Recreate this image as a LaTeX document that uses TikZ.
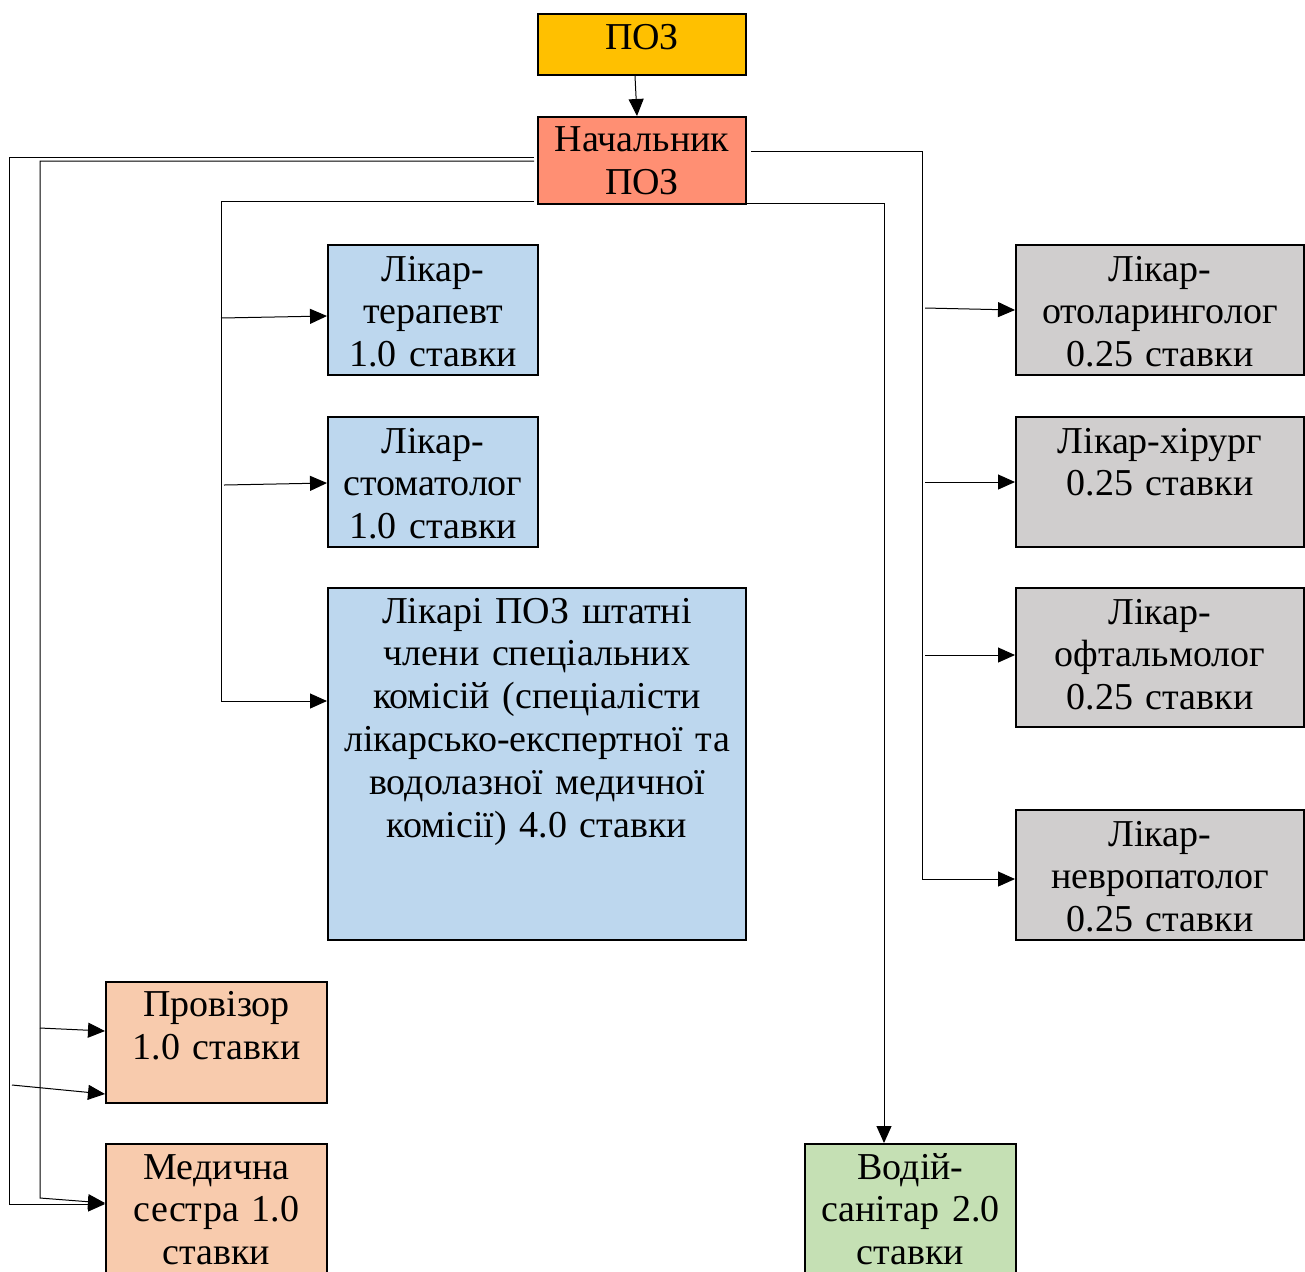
\documentclass[tikz,border=0pt]{standalone}
\usepackage{fontspec}
\setmainfont{Liberation Serif}
\usetikzlibrary{arrows.meta,fit}
\definecolor{pozyellow}{HTML}{FFC000}
\definecolor{headred}{HTML}{FF8F73}
\definecolor{docblue}{HTML}{BDD7EE}
\definecolor{staffpeach}{HTML}{F8CBAD}
\definecolor{drivergreen}{HTML}{C5E0B4}
\definecolor{specgrey}{HTML}{D0CECE}

\begin{document}
\begin{tikzpicture}[x=0.5pt,y=-0.5pt]
 % styles for the boxes, their texts and the arrows
 \tikzset{box/.style={draw, line width=1pt, inner sep=0pt},
  txt/.style={anchor=base, align=center, inner sep=0pt, font=\fontsize{19}{21.4}\selectfont},
  link/.style={line width=0.5pt},
  arr/.style={link, -{Triangle[length=8.5pt,width=7.5pt]}}}

 \useasboundingbox (0,0) rectangle (1305,1271);
 \clip (0,0) rectangle (1305,1271);

 %head of the chart
 \node[box, fill=pozyellow, fit={(538,14) (746,75)}] (poz) {};
 \node[txt, text width=100pt] (poz-t) at ([yshift=-18pt]poz.north) {ПОЗ};
 \node[box, fill=headred, fit={(538,117) (746,204)}] (nach) {};
 \node[txt, text width=100pt] (nach-t) at ([yshift=-17.8pt]nach.north) {Начальник\\ПОЗ};

 %doctors on the left
 \node[box, fill=docblue, fit={(328,245) (538,375)}] (ter) {};
 \node[txt, text width=100pt] (ter-t) at ([yshift=-18.5pt]ter.north) {Лікар-\\терапевт\\1.0 ставки};
 \node[box, fill=docblue, fit={(328,417) (538,547)}] (stom) {};
 \node[txt, text width=100pt] (stom-t) at ([yshift=-18.5pt]stom.north) {Лікар-\\стоматолог\\1.0 ставки};
 \node[box, fill=docblue, fit={(328,588) (746,940)}] (komis) {};
 \node[txt, text width=205pt] (komis-t) at ([yshift=-18pt]komis.north) {Лікарі ПОЗ штатні\\члени спеціальних\\комісій (спеціалісти\\лікарсько-експертної та\\водолазної медичної\\комісії) 4.0 ставки};

 %staff at the bottom
 \node[box, fill=staffpeach, fit={(106,982) (327,1103)}] (prov) {};
 \node[txt, text width=105pt] (prov-t) at ([yshift=-17.8pt]prov.north) {Провізор\\1.0 ставки};
 \node[box, fill=staffpeach, fit={(106,1144) (327,1300)}] (sestra) {};
 \node[txt, text width=105pt] (sestra-t) at ([yshift=-18pt]sestra.north) {Медична\\сестра 1.0\\ставки};
 \node[box, fill=drivergreen, fit={(805,1144) (1016,1300)}] (vodiy) {};
 \node[txt, text width=100pt] (vodiy-t) at ([yshift=-18pt]vodiy.north) {Водій-\\санітар 2.0\\ставки};

 %part-time specialists on the right
 \node[box, fill=specgrey, fit={(1016,245) (1304,375)}] (otol) {};
 \node[txt, text width=140pt] (otol-t) at ([yshift=-18.5pt]otol.north) {Лікар-\\отоларинголог\\0.25 ставки};
 \node[box, fill=specgrey, fit={(1016,417) (1304,547)}] (hir) {};
 \node[txt, text width=140pt] (hir-t) at ([yshift=-18.5pt]hir.north) {Лікар-хірург\\0.25 ставки};
 \node[box, fill=specgrey, fit={(1016,588) (1304,727)}] (oft) {};
 \node[txt, text width=140pt] (oft-t) at ([yshift=-18.5pt]oft.north) {Лікар-\\офтальмолог\\0.25 ставки};
 \node[box, fill=specgrey, fit={(1016,810) (1304,940)}] (nevro) {};
 \node[txt, text width=140pt] (nevro-t) at ([yshift=-18.5pt]nevro.north) {Лікар-\\невропатолог\\0.25 ставки};

 %free ends of the side branches
 \coordinate (prov-a) at (40,1028);
 \coordinate (prov-b) at (12,1085);
 \coordinate (ter-a) at (221,318);
 \coordinate (stom-a) at (224,485);
 \coordinate (otol-a) at (925,308);
 \coordinate (hir-a) at (925,482);
 \coordinate (oft-a) at (925,655);

 %arrows
 \draw[arr] (poz.south -| 635,0) -- (nach.north -| 637,0);
 \draw[arr] ([xshift=-1.5pt]nach.west |- 0,157) -| (9,1204) -- (sestra.west |- 0,1204);
 \draw[arr] ([xshift=-1.5pt]nach.west |- 0,161) -| (40,1198) -- (sestra.west |- 0,1203);
 \draw[arr] (prov-a) -- (prov.west |- 0,1031);
 \draw[arr] (prov-b) -- (prov.west |- 0,1094);
 \draw[arr] ([xshift=-1.5pt]nach.west |- 0,201) -| (221,701) -- (komis.west |- 0,701);
 \draw[arr] (ter-a) -- (ter.west |- 0,316);
 \draw[arr] (stom-a) -- (stom.west |- 0,483);
 \draw[arr] ([xshift=2pt]nach.east |- 0,151) -| (922,879) -- (nevro.west |- 0,879);
 \draw[arr] (otol-a) -- (otol.west |- 0,310);
 \draw[arr] (hir-a) -- (hir.west |- 0,482);
 \draw[arr] (oft-a) -- (oft.west |- 0,655);
 \draw[arr] (nach.east |- 0,203) -| (vodiy.north -| 884,0);
\end{tikzpicture}
\end{document}
